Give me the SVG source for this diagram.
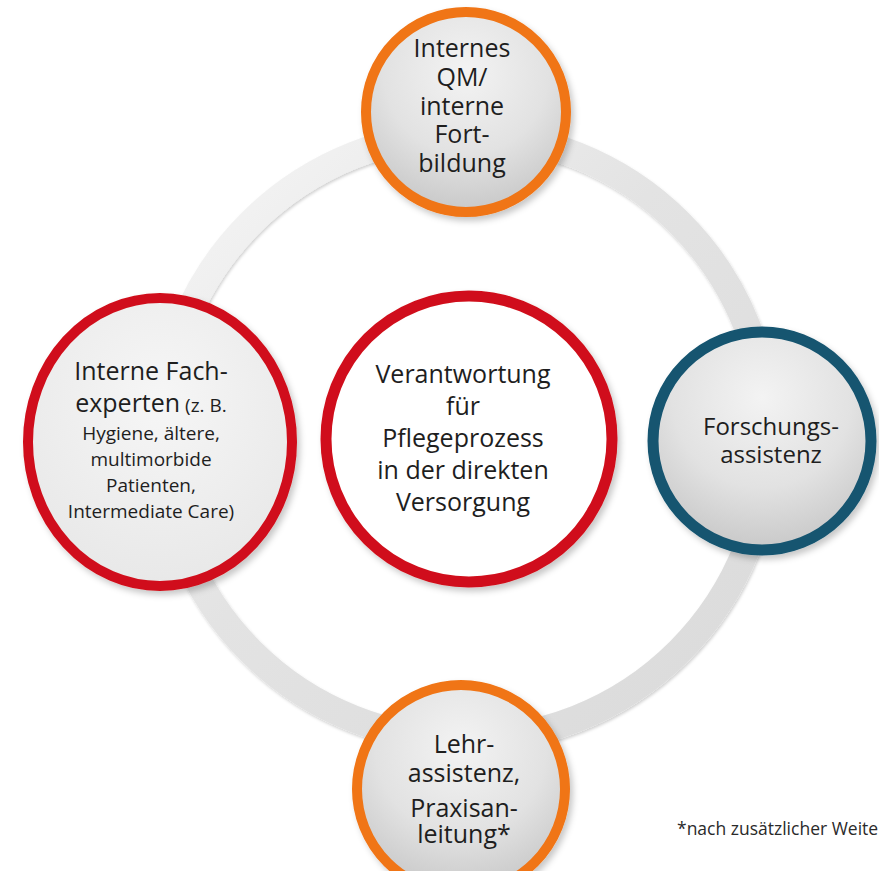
<svg xmlns="http://www.w3.org/2000/svg" width="879" height="871" viewBox="0 0 879 871">
<defs>
<style>
text{font-family:"Open Sans","Noto Sans","Liberation Sans",sans-serif;fill:#1e1e1e;text-anchor:middle}
.big{font-size:25px}
.mid{font-size:24px}
.sm{font-size:19px}
.foot{font-size:17.5px;text-anchor:start;fill:#2a2a2a}
.node{stroke-width:10}
</style>
<linearGradient id="ringGrad" x1="0" y1="0" x2="1" y2="1">
<stop offset="0" stop-color="#f7f7f7"/>
<stop offset="0.45" stop-color="#e3e3e3"/>
<stop offset="1" stop-color="#dadada"/>
</linearGradient>
<radialGradient id="grayFill" cx="0.5" cy="0.3" r="0.75">
<stop offset="0" stop-color="#f3f3f3"/>
<stop offset="0.55" stop-color="#e2e2e2"/>
<stop offset="1" stop-color="#c4c4c4"/>
</radialGradient>
<radialGradient id="lightFill" cx="0.5" cy="0.35" r="0.75">
<stop offset="0" stop-color="#f6f6f6"/>
<stop offset="1" stop-color="#e6e6e6"/>
</radialGradient>
<filter id="shadow" x="-20%" y="-20%" width="140%" height="140%">
<feDropShadow dx="3" dy="4" stdDeviation="3" flood-color="#000" flood-opacity="0.22"/>
</filter>
<filter id="ringShadow" x="-10%" y="-10%" width="120%" height="120%">
<feDropShadow dx="1" dy="2" stdDeviation="1.5" flood-color="#000" flood-opacity="0.18"/>
</filter>
</defs>
<rect width="879" height="871" fill="#ffffff"/>
<g id="connectors">
<circle cx="465" cy="437" r="303" fill="none" stroke="url(#ringGrad)" stroke-width="27" filter="url(#ringShadow)"/>
</g>
<g id="node-top">
<circle class="node" cx="466" cy="112" r="100" fill="url(#grayFill)" stroke="#f07414" filter="url(#shadow)"/>
<text class="big" x="462" y="57">Internes</text>
<text class="big" x="462" y="86">QM/</text>
<text class="big" x="462" y="115">interne</text>
<text class="big" x="462" y="143">Fort-</text>
<text class="big" x="462" y="172">bildung</text>
</g>
<g id="node-left">
<ellipse class="node" cx="160" cy="442" rx="132" ry="144" fill="url(#lightFill)" stroke="#d0101a" filter="url(#shadow)"/>
<text class="big" x="151" y="380">Interne Fach-</text>
<text x="151" y="412"><tspan class="big">experten</tspan><tspan class="sm"> (z. B.</tspan></text>
<text class="sm" x="151" y="440">Hygiene, ältere,</text>
<text class="sm" x="151" y="466">multimorbide</text>
<text class="sm" x="151" y="492">Patienten,</text>
<text class="sm" x="151" y="518">Intermediate Care)</text>
</g>
<g id="node-center">
<circle cx="469" cy="439" r="143" fill="#ffffff" stroke="#d0101a" stroke-width="11" filter="url(#shadow)"/>
<text class="big" x="463" y="383">Verantwortung</text>
<text class="big" x="463" y="415">für</text>
<text class="big" x="463" y="447">Pflegeprozess</text>
<text class="big" x="463" y="479">in der direkten</text>
<text class="big" x="463" y="511">Versorgung</text>
</g>
<g id="node-right">
<circle cx="762" cy="441" r="109" fill="url(#grayFill)" stroke="#145470" stroke-width="11" filter="url(#shadow)"/>
<text class="mid" x="771" y="435">Forschungs-</text>
<text class="mid" x="771" y="463">assistenz</text>
</g>
<g id="node-bottom">
<circle class="node" cx="461" cy="789" r="104" fill="url(#grayFill)" stroke="#f07414" filter="url(#shadow)"/>
<text class="big" x="464" y="753">Lehr-</text>
<text class="big" x="464" y="782">assistenz,</text>
<text class="big" x="464" y="817">Praxisan-</text>
<text class="big" x="464" y="843">leitung*</text>
</g>
<text class="foot" x="677" y="835">*nach zusätzlicher Weite</text>
</svg>
